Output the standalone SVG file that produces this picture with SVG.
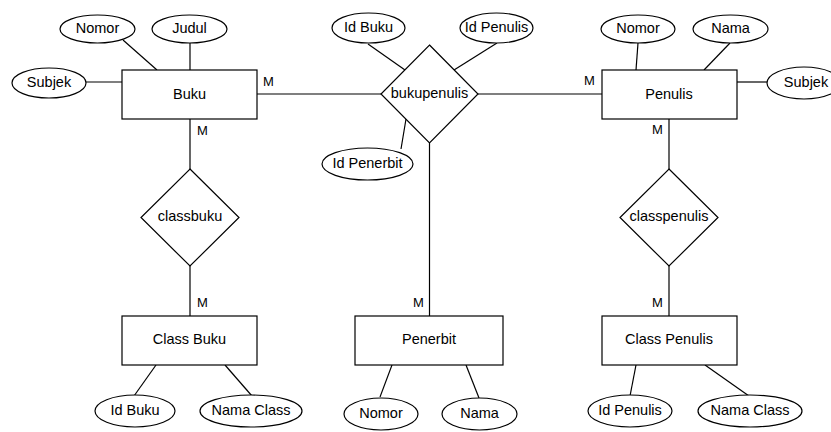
<svg xmlns="http://www.w3.org/2000/svg" width="831" height="432" viewBox="0 0 831 432">
<style>
.s{fill:#fff;stroke:#000;stroke-width:1.2}
.c{stroke:#000;stroke-width:1.2;fill:none}
text{font-family:"Liberation Sans",Arial,sans-serif;font-size:14.5px;fill:#000;text-anchor:middle;dominant-baseline:central}
.m{font-size:13px;text-anchor:start}
</style>
<rect width="831" height="432" fill="#fff"/>
<g id="connectors">
<line class="c" x1="123" y1="40" x2="157" y2="70"/>
<line class="c" x1="190" y1="43" x2="190" y2="70"/>
<line class="c" x1="86" y1="82" x2="122" y2="82"/>
<line class="c" x1="257" y1="94" x2="381" y2="94"/>
<line class="c" x1="478" y1="94" x2="602" y2="94"/>
<line class="c" x1="368" y1="44" x2="405" y2="70"/>
<line class="c" x1="497" y1="43" x2="454" y2="70"/>
<line class="c" x1="401" y1="149" x2="406" y2="119"/>
<line class="c" x1="429.5" y1="143" x2="429.5" y2="316"/>
<line class="c" x1="638" y1="43" x2="636" y2="70"/>
<line class="c" x1="730" y1="43" x2="704" y2="70"/>
<line class="c" x1="737" y1="82" x2="767" y2="82"/>
<line class="c" x1="190" y1="119" x2="190" y2="169"/>
<line class="c" x1="190" y1="266" x2="190" y2="316"/>
<line class="c" x1="669" y1="119" x2="669" y2="169"/>
<line class="c" x1="669" y1="266" x2="669" y2="316"/>
<line class="c" x1="156" y1="365" x2="134" y2="396"/>
<line class="c" x1="225" y1="365" x2="252" y2="396"/>
<line class="c" x1="392" y1="365" x2="380" y2="397"/>
<line class="c" x1="466" y1="365" x2="479" y2="398"/>
<line class="c" x1="636" y1="365" x2="630" y2="396"/>
<line class="c" x1="705" y1="365" x2="749" y2="396"/>
<text class="m" x="263" y="81">M</text>
<text class="m" x="197" y="130">M</text>
<text class="m" x="584" y="80">M</text>
<text class="m" x="652" y="129">M</text>
<text class="m" x="197" y="302">M</text>
<text class="m" x="413" y="302">M</text>
<text class="m" x="652" y="302">M</text>
</g>
<g id="buku"><rect class="s" x="122" y="70" width="135" height="49"/><text x="189.5" y="94">Buku</text></g>
<g id="buku-nomor"><ellipse class="s" cx="97.5" cy="29" rx="37.5" ry="14"/><text x="97.5" y="28">Nomor</text></g>
<g id="buku-judul"><ellipse class="s" cx="189.5" cy="29" rx="37.5" ry="14"/><text x="189.5" y="28">Judul</text></g>
<g id="buku-subjek"><ellipse class="s" cx="49" cy="83" rx="37" ry="15"/><text x="49" y="82">Subjek</text></g>
<g id="bukupenulis"><polygon class="s" points="429.5,45 478,94 429.5,143 381,94"/><text x="429.5" y="93">bukupenulis</text></g>
<g id="bp-idbuku"><ellipse class="s" cx="368.5" cy="28" rx="36.5" ry="15"/><text x="368.5" y="27">Id Buku</text></g>
<g id="bp-idpenulis"><ellipse class="s" cx="496.5" cy="28" rx="36.5" ry="15"/><text x="496.5" y="27">Id Penulis</text></g>
<g id="bp-idpenerbit"><ellipse class="s" cx="367.5" cy="164" rx="45.5" ry="16"/><text x="367.5" y="163">Id Penerbit</text></g>
<g id="penulis"><rect class="s" x="602" y="70" width="135" height="49"/><text x="669" y="94">Penulis</text></g>
<g id="penulis-nomor"><ellipse class="s" cx="638" cy="29" rx="37" ry="14"/><text x="638" y="28">Nomor</text></g>
<g id="penulis-nama"><ellipse class="s" cx="730.5" cy="29" rx="37.5" ry="14"/><text x="730.5" y="28">Nama</text></g>
<g id="penulis-subjek"><ellipse class="s" cx="804" cy="83" rx="37" ry="16"/><text x="806" y="82">Subjek</text></g>
<g id="classbuku"><polygon class="s" points="190,169 239,217.5 190,266 141,217.5"/><text x="190" y="216">classbuku</text></g>
<g id="classpenulis"><polygon class="s" points="669,169 718,217.5 669,266 620,217.5"/><text x="669" y="216">classpenulis</text></g>
<g id="class-buku"><rect class="s" x="122" y="316" width="135" height="49"/><text x="189.5" y="339">Class Buku</text></g>
<g id="cb-idbuku"><ellipse class="s" cx="135" cy="411" rx="40" ry="16"/><text x="135" y="410">Id Buku</text></g>
<g id="cb-namaclass"><ellipse class="s" cx="251" cy="411" rx="51" ry="16"/><text x="251" y="410">Nama Class</text></g>
<g id="penerbit"><rect class="s" x="355" y="316" width="148" height="49"/><text x="429" y="339">Penerbit</text></g>
<g id="pen-nomor"><ellipse class="s" cx="381" cy="414" rx="37" ry="16"/><text x="381" y="413">Nomor</text></g>
<g id="pen-nama"><ellipse class="s" cx="479.5" cy="414" rx="37.5" ry="16"/><text x="479.5" y="413">Nama</text></g>
<g id="class-penulis"><rect class="s" x="602" y="316" width="135" height="49"/><text x="669" y="339">Class Penulis</text></g>
<g id="cp-idpenulis"><ellipse class="s" cx="630" cy="411" rx="42" ry="16"/><text x="630" y="410">Id Penulis</text></g>
<g id="cp-namaclass"><ellipse class="s" cx="750" cy="411" rx="52" ry="16"/><text x="750" y="410">Nama Class</text></g>
</svg>
